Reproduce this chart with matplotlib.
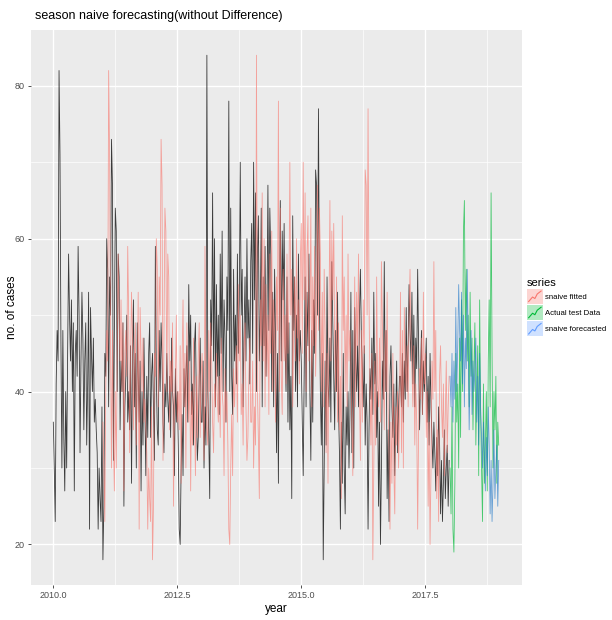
import numpy as np
import matplotlib.pyplot as plt
from matplotlib.patches import Rectangle
from matplotlib.lines import Line2D
from matplotlib.legend_handler import HandlerBase
from matplotlib.ticker import MultipleLocator

plt.rcParams['font.family'] = ['Liberation Sans', 'DejaVu Sans']

# weekly case counts, one list per year (52 weeks each)
cases_2010 = [36, 30, 23, 41, 48, 44, 82, 71, 46, 30, 48, 34, 27, 40, 30, 45, 58, 50,
              44, 52, 40, 49, 27, 45, 48, 42, 59, 50, 32, 44, 53, 47, 35, 44, 49, 33,
              41, 53, 22, 51, 45, 40, 47, 36, 39, 35, 32, 22, 30, 26, 23, 38]
cases_2011 = [18, 25, 45, 42, 60, 56, 38, 55, 50, 73, 67, 31, 48, 64, 61, 40, 58, 55,
              35, 44, 40, 49, 25, 38, 42, 50, 36, 40, 35, 46, 28, 44, 52, 38, 45, 30,
              49, 42, 36, 44, 27, 40, 33, 47, 38, 29, 42, 34, 45, 49, 34, 42]
cases_2012 = [45, 38, 31, 59, 42, 35, 33, 48, 40, 49, 44, 36, 32, 41, 38, 45, 39, 36,
              42, 34, 47, 40, 38, 29, 43, 36, 40, 33, 22, 20, 30, 37, 29, 43, 38, 42,
              46, 36, 54, 44, 50, 37, 41, 33, 46, 49, 38, 31, 34, 42, 47, 36]
cases_2013 = [36, 44, 30, 38, 33, 84, 40, 34, 26, 52, 46, 66, 44, 60, 38, 54, 42, 50,
              37, 58, 45, 61, 40, 52, 47, 36, 55, 48, 78, 40, 64, 42, 37, 56, 44, 50,
              41, 58, 45, 52, 70, 50, 56, 38, 48, 55, 44, 60, 47, 52, 41, 57]
cases_2014 = [62, 45, 70, 52, 66, 40, 58, 63, 44, 50, 64, 38, 55, 46, 59, 42, 50, 67,
              48, 64, 58, 40, 53, 38, 56, 47, 32, 45, 28, 50, 65, 44, 61, 52, 62, 46,
              40, 55, 36, 49, 35, 42, 26, 63, 48, 55, 40, 50, 38, 58, 44, 48]
cases_2015 = [44, 36, 29, 42, 55, 38, 53, 46, 58, 40, 31, 48, 36, 52, 45, 69, 67, 50,
              77, 52, 40, 33, 45, 18, 30, 44, 33, 55, 41, 38, 47, 36, 57, 49, 42, 35,
              48, 40, 53, 38, 32, 22, 36, 28, 45, 30, 24, 38, 33, 40, 30, 37]
cases_2016 = [53, 32, 48, 30, 51, 44, 40, 46, 38, 50, 56, 47, 43, 38, 46, 33, 41, 36,
              22, 35, 43, 39, 47, 37, 53, 41, 45, 34, 40, 25, 36, 20, 30, 44, 39, 57,
              40, 48, 26, 35, 23, 42, 46, 38, 34, 41, 29, 37, 44, 32, 38, 42]
cases_2017 = [42, 38, 45, 36, 44, 39, 51, 40, 46, 54, 48, 44, 53, 41, 50, 38, 47, 43,
              56, 46, 35, 42, 48, 37, 44, 40, 43, 47, 36, 42, 33, 45, 38, 34, 30, 36,
              32, 27, 34, 29, 38, 33, 24, 31, 23, 28, 35, 26, 30, 33, 25, 31]
# held-out 2018 data
test_2018 = [30, 24, 38, 22, 19, 28, 45, 36, 41, 30, 47, 34, 52, 40, 61, 65, 48, 56,
             44, 50, 38, 53, 42, 47, 35, 43, 49, 33, 40, 46, 29, 52, 37, 30, 23, 41,
             28, 33, 40, 27, 44, 52, 38, 66, 45, 30, 40, 35, 42, 28, 36, 33]

train = np.array(cases_2010 + cases_2011 + cases_2012 + cases_2013 +
                 cases_2014 + cases_2015 + cases_2016 + cases_2017, dtype=float)
test = np.array(test_2018, dtype=float)
freq = 52
t_train = 2010 + np.arange(len(train)) / freq
t_test = 2018 + np.arange(len(test)) / freq

# seasonal naive: value from the same week one year earlier
fitted = train[:-freq]
t_fitted = t_train[freq:]
forecast = train[-freq:][:len(test)]

series_labels = ['snaive fitted', 'Actual test Data', 'snaive forecasted']
series_colors = ['#F8766D', '#00BA38', '#619CFF']

fig = plt.figure(figsize=(6.12, 6.20), dpi=100)
ax = fig.add_axes([31 / 612, 35 / 620, (522 - 31) / 612, (585 - 30) / 620])
ax.set_facecolor('#EBEBEB')

ax.plot(t_train, train, color='black', lw=0.6, alpha=0.75)
ax.plot(t_fitted, fitted, color=series_colors[0], lw=0.6, alpha=0.65)
ax.plot(t_test, test, color=series_colors[1], lw=0.6, alpha=0.7)
ax.plot(t_test, forecast, color='#1F77C8', lw=0.6, alpha=0.65)

ax.set_xlim(2009.55, 2019.45)
ax.set_ylim(14.7, 87.3)
ax.xaxis.set_major_locator(MultipleLocator(2.5))
ax.xaxis.set_minor_locator(MultipleLocator(1.25))
ax.yaxis.set_major_locator(MultipleLocator(20))
ax.yaxis.set_minor_locator(MultipleLocator(10))
ax.grid(which='major', color='white', lw=1.0)
ax.grid(which='minor', color='white', lw=0.5)
ax.set_axisbelow(True)
for s in ax.spines.values():
    s.set_visible(False)
ax.tick_params(which='major', length=2.5, width=0.6, color='#333333',
               labelsize=6.5, labelcolor='#4D4D4D', pad=2)
ax.tick_params(which='minor', length=0)
ax.set_xlabel('year', fontsize=8.5, labelpad=2)
ax.set_ylabel('no. of cases', fontsize=8.5)
ax.yaxis.set_label_coords(-0.027, 0.5)
ax.set_title('season naive forecasting(without Difference)', fontsize=9,
             loc='left', x=0.008, pad=8)


class KeyHandler(HandlerBase):
    def create_artists(self, legend, orig_handle, xdescent, ydescent,
                       width, height, fontsize, trans):
        c = orig_handle.get_color()
        rect = Rectangle((-xdescent, -ydescent), width, height, facecolor=c,
                         alpha=0.3, edgecolor='none', transform=trans)
        xs = -xdescent + width * np.array([0.1, 0.35, 0.5, 0.65, 0.9])
        ys = -ydescent + height * np.array([0.15, 0.45, 0.35, 0.65, 0.85])
        ln = Line2D(xs, ys, color=c, lw=0.8, transform=trans)
        return [rect, ln]


handles = [Line2D([], [], color=c) for c in series_colors]
leg = ax.legend(handles, series_labels, title='series', loc='center left',
                bbox_to_anchor=(524 / 612, 0.505), bbox_transform=fig.transFigure,
                frameon=False, fontsize=5.6, title_fontsize=8,
                handler_map={Line2D: KeyHandler()}, handlelength=2.0,
                handleheight=2.6, handletextpad=0.25, labelspacing=0.15,
                borderpad=0.2, borderaxespad=0.2)
leg._legend_box.align = 'left'

fig.savefig('out.png', dpi=100)
